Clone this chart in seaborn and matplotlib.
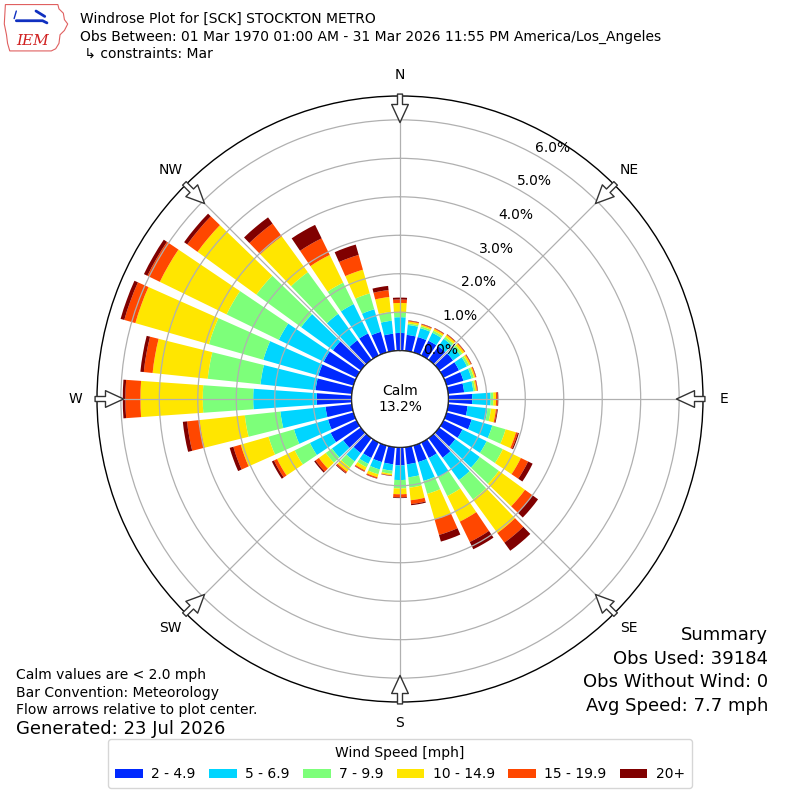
import numpy as np
import matplotlib
matplotlib.use("Agg")
import matplotlib.pyplot as plt
from matplotlib.patches import Patch, Polygon
import seaborn as sns

# ---------------- data ----------------
directions = np.arange(0, 360, 10)  # degrees (meteorological, from)
speed_labels = ["2 - 4.9", "5 - 6.9", "7 - 9.9", "10 - 14.9", "15 - 19.9", "20+"]

pct_2_5 = [0.46, 0.42, 0.42, 0.43, 0.44, 0.45, 0.45, 0.46, 0.42, 0.62, 0.51, 0.68,
           0.55, 0.52, 0.63, 0.45, 0.45, 0.45, 0.47, 0.45, 0.45, 0.45, 0.48, 0.57,
           0.75, 0.69, 0.69, 0.91, 0.95, 0.95, 0.95, 0.90, 0.63, 0.64, 0.56, 0.45]
pct_5_7 = [0.41, 0.26, 0.24, 0.23, 0.24, 0.23, 0.23, 0.22, 0.24, 0.48, 0.52, 0.56,
           0.70, 0.79, 0.72, 0.56, 0.51, 0.34, 0.38, 0.17, 0.20, 0.17, 0.27, 0.36,
           0.60, 0.92, 1.18, 1.65, 1.44, 1.49, 1.30, 1.02, 0.85, 0.85, 0.61, 0.34]
pct_7_10 = [0.12, 0.04, 0.05, 0.06, 0.06, 0.07, 0.06, 0.06, 0.05, 0.07, 0.09, 0.36,
            0.47, 0.61, 0.62, 0.54, 0.35, 0.27, 0.22, 0.08, 0.13, 0.10, 0.20, 0.20,
            0.44, 0.69, 0.93, 1.31, 1.38, 1.47, 1.51, 1.44, 1.34, 0.62, 0.43, 0.23]
pct_10_15 = [0.25, 0.05, 0.04, 0.05, 0.06, 0.06, 0.05, 0.04, 0.04, 0.07, 0.13, 0.28,
             0.52, 0.84, 1.08, 0.74, 0.69, 0.33, 0.15, 0.04, 0.08, 0.09, 0.13, 0.22,
             0.51, 0.75, 1.18, 1.62, 1.44, 1.99, 1.93, 1.89, 1.15, 0.80, 0.64, 0.39]
pct_15_20 = [0.09, 0.02, 0.02, 0.02, 0.02, 0.02, 0.02, 0.02, 0.02, 0.04, 0.03, 0.05,
             0.21, 0.24, 0.31, 0.59, 0.42, 0.10, 0.08, 0.01, 0.03, 0.03, 0.04, 0.11,
             0.09, 0.20, 0.33, 0.39, 0.23, 0.30, 0.36, 0.33, 0.41, 0.48, 0.40, 0.18]
pct_20p = [0.05, 0.01, 0.01, 0.01, 0.01, 0.01, 0.01, 0.01, 0.01, 0.02, 0.02, 0.03,
           0.13, 0.18, 0.26, 0.21, 0.18, 0.03, 0.02, 0.01, 0.01, 0.01, 0.02, 0.04,
           0.06, 0.10, 0.11, 0.07, 0.09, 0.10, 0.10, 0.10, 0.20, 0.39, 0.28, 0.11]

calm_pct = 13.2
ring_values = [0, 1, 2, 3, 4, 5, 6]
compass_labels = ["N", "NE", "E", "SE", "S", "SW", "W", "NW"]
compass_angles = [0, 45, 90, 135, 180, 225, 270, 315]

title_lines = ["Windrose Plot for [SCK] STOCKTON METRO",
               "Obs Between: 01 Mar 1970 01:00 AM - 31 Mar 2026 11:55 PM America/Los_Angeles",
               " \u21b3 constraints: Mar"]
left_notes = ["Calm values are < 2.0 mph", "Bar Convention: Meteorology",
              "Flow arrows relative to plot center."]
generated = "Generated: 23 Jul 2026"
summary_lines = ["Summary", "Obs Used: 39184", "Obs Without Wind: 0", "Avg Speed: 7.7 mph"]

# ---------------- style ----------------
sns.set_style("white", rc={"text.color": "black", "axes.labelcolor": "black",
                           "xtick.color": "black", "ytick.color": "black"})
plt.rcParams["font.family"] = ["DejaVu Sans"]

series = [pct_2_5, pct_5_7, pct_7_10, pct_10_15, pct_15_20, pct_20p]
cmap = plt.get_cmap("jet")
colors = [cmap(x) for x in np.linspace(0, 1, 7)[1:]]

fig = plt.figure(figsize=(8, 8), dpi=100)
ax = fig.add_axes([0.12125, 0.1225, 0.7575, 0.7575], projection="polar")
ax.set_theta_zero_location("N")
ax.set_theta_direction(-1)
RMAX = 6.62
ax.set_rorigin(-1.256)
ax.set_ylim(0, RMAX)

theta = np.deg2rad(directions)
width = np.deg2rad(10) * 0.8
bottom = np.zeros(len(directions))
for vals, col in zip(series, colors):
    vals = np.asarray(vals)
    ax.bar(theta, vals, width=width, bottom=bottom, color=col,
           edgecolor="none", linewidth=0, zorder=1)
    bottom = bottom + vals

# grid
ax.set_axisbelow(False)
ax.set_xticks(np.deg2rad(compass_angles))
ax.set_xticklabels([])
ax.set_yticks(ring_values)
ax.set_yticklabels([f"{v:.1f}%" for v in ring_values], fontsize=10, color="black")
ax.set_rlabel_position(29)
ax.grid(True, color="#b0b0b0", linewidth=0.9)
ax.spines["polar"].set_color("black")
ax.spines["polar"].set_linewidth(1.0)

# calm circle outline
tt = np.linspace(0, 2 * np.pi, 361)
ax.plot(tt, np.zeros_like(tt), color="black", linewidth=1.0, zorder=5)
ax.text(0, -1.256, f"Calm\n{calm_pct:.1f}%", ha="center", va="center",
        fontsize=10, zorder=6, color="black")

# compass labels and flow arrows
for lab, ang in zip(compass_labels, compass_angles):
    a = np.deg2rad(ang)
    ax.text(a, 7.17, lab, ha="center", va="center", fontsize=10, clip_on=False,
            color="black")
    ax.annotate("", xy=(a, 5.93), xytext=(a, 6.67), xycoords="data",
                annotation_clip=False,
                arrowprops=dict(arrowstyle="simple,head_length=1.3,head_width=1.2,tail_width=0.36",
                                fc="white", ec="#333333", lw=1.0,
                                shrinkA=0, shrinkB=0, mutation_scale=10),
                zorder=7)

# header
for i, line in enumerate(title_lines):
    fig.text(0.1, 1 - (19 + 17.5 * i) / 800, line, fontsize=10, va="center", ha="left",
             color="black")

# logo (simplified)
lax = fig.add_axes([0.004, 0.935, 0.082, 0.062])
lax.set_xlim(0, 60)
lax.set_ylim(0, 46)
lax.axis("off")
outline = [(2, 44), (50, 44), (51, 40), (55, 36), (56, 30), (59, 26), (56, 20),
           (52, 16), (51, 8), (48, 3), (44, 1), (6, 1), (4, 8), (3, 16), (1, 26), (2, 44)]
lax.add_patch(Polygon(outline, closed=True, fill=False, ec="#e06060", lw=0.8))
lax.plot([12, 36, 40], [29, 29, 27], color="#1030c0", lw=2)
lax.plot([30, 38], [38, 33], color="#1030c0", lw=2)
lax.plot([12, 10], [38, 31], color="#1030c0", lw=1)
lax.text(27, 10, "IEM", color="#d02020", fontsize=11, fontstyle="italic",
         family="DejaVu Serif", ha="center", va="center")

# bottom-left notes
for i, line in enumerate(left_notes):
    fig.text(0.02, 1 - (675 + 17.5 * i) / 800, line, fontsize=10, va="center", ha="left",
             color="black")
fig.text(0.02, 1 - 729 / 800, generated, fontsize=13, va="center", ha="left", color="black")

# summary
for i, line in enumerate(summary_lines):
    fig.text(0.96, 1 - (635 + 23.7 * i) / 800, line, fontsize=13, va="center", ha="right",
             color="black")

# legend
handles = [Patch(facecolor=c, edgecolor="none") for c in colors]
leg = fig.legend(handles, speed_labels, ncol=6, loc="lower center",
                 bbox_to_anchor=(0.5, 0.006), title="Wind Speed [mph]",
                 fontsize=10, title_fontsize=10, frameon=True,
                 handlelength=2.0, handleheight=0.7, columnspacing=0.95,
                 handletextpad=0.6, borderpad=0.5)
leg.get_frame().set_edgecolor("#cccccc")
for t in leg.get_texts():
    t.set_color("black")
leg.get_title().set_color("black")

fig.savefig("out.png", dpi=100)
